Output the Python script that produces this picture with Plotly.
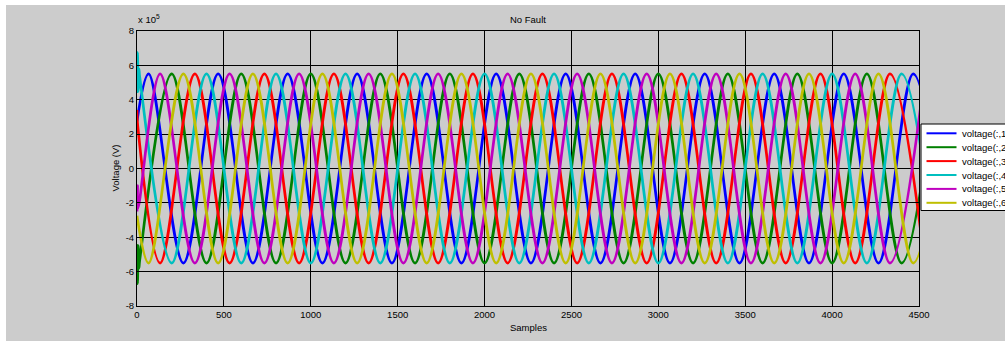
import plotly.graph_objects as go

# ---- data: sample index and voltage (x 1e5 V) at the turning points of each phase ----
names = ["voltage(:,1)", "voltage(:,2)", "voltage(:,3)",
         "voltage(:,4)", "voltage(:,5)", "voltage(:,6)"]
colors = ["#0000ff", "#008000", "#ff0000", "#00bfbf", "#bf00bf", "#bfbf00"]

v1_x = [0, 67, 267, 467, 667, 867, 1067, 1267, 1467, 1667, 1867, 2067, 2267,
        2467, 2667, 2867, 3067, 3267, 3467, 3667, 3867, 4067, 4267, 4467, 4667]
v1_y = [2.75,
        5.5, -5.5, 5.5, -5.5, 5.5, -5.5, 5.5, -5.5,
        5.5, -5.5, 5.5, -5.5, 5.5, -5.5, 5.5, -5.5,
        5.5, -5.5, 5.5, -5.5, 5.5, -5.5, 5.5, -5.5]

v2_x = [0, 3, 7, 11, 16, 200, 400, 600, 800, 1000, 1200, 1400, 1600, 1800,
        2000, 2200, 2400, 2600, 2800, 3000, 3200, 3400, 3600, 3800, 4000,
        4200, 4400, 4600]
v2_y = [-4.4, -6.7, -4.5, -5.8, -5.3,
        5.5, -5.5, 5.5, -5.5, 5.5, -5.5, 5.5, -5.5,
        5.5, -5.5, 5.5, -5.5, 5.5, -5.5, 5.5, -5.5,
        5.5, -5.5, 5.5, -5.5, 5.5, -5.5, 5.5]

v3_x = [0, 4, 133, 333, 533, 733, 933, 1133, 1333, 1533, 1733, 1933, 2133,
        2333, 2533, 2733, 2933, 3133, 3333, 3533, 3733, 3933, 4133, 4333, 4533]
v3_y = [3.4, 2.5,
        -5.5, 5.5, -5.5, 5.5, -5.5, 5.5, -5.5, 5.5,
        -5.5, 5.5, -5.5, 5.5, -5.5, 5.5, -5.5, 5.5,
        -5.5, 5.5, -5.5, 5.5, -5.5, 5.5, -5.5]

v4_x = [0, 3, 7, 11, 16, 200, 400, 600, 800, 1000, 1200, 1400, 1600, 1800,
        2000, 2200, 2400, 2600, 2800, 3000, 3200, 3400, 3600, 3800, 4000,
        4200, 4400, 4600]
v4_y = [4.4, 6.75, 4.5, 5.8, 5.3,
        -5.5, 5.5, -5.5, 5.5, -5.5, 5.5, -5.5, 5.5,
        -5.5, 5.5, -5.5, 5.5, -5.5, 5.5, -5.5, 5.5,
        -5.5, 5.5, -5.5, 5.5, -5.5, 5.5, -5.5]

v5_x = [0, 3, 6, 133, 333, 533, 733, 933, 1133, 1333, 1533, 1733, 1933, 2133,
        2333, 2533, 2733, 2933, 3133, 3333, 3533, 3733, 3933, 4133, 4333, 4533]
v5_y = [-2.5, -1.0, -2.3,
        5.5, -5.5, 5.5, -5.5, 5.5, -5.5, 5.5, -5.5,
        5.5, -5.5, 5.5, -5.5, 5.5, -5.5, 5.5, -5.5,
        5.5, -5.5, 5.5, -5.5, 5.5, -5.5, 5.5]

v6_x = [0, 67, 267, 467, 667, 867, 1067, 1267, 1467, 1667, 1867, 2067, 2267,
        2467, 2667, 2867, 3067, 3267, 3467, 3667, 3867, 4067, 4267, 4467, 4667]
v6_y = [-2.75,
        -5.5, 5.5, -5.5, 5.5, -5.5, 5.5, -5.5, 5.5,
        -5.5, 5.5, -5.5, 5.5, -5.5, 5.5, -5.5, 5.5,
        -5.5, 5.5, -5.5, 5.5, -5.5, 5.5, -5.5, 5.5]

x_ticks = [0, 500, 1000, 1500, 2000, 2500, 3000, 3500, 4000, 4500]
y_ticks = [-8, -6, -4, -2, 0, 2, 4, 6, 8]   # in units of 1e5 V
UNIT = 1e5

series_x = [v1_x, v2_x, v3_x, v4_x, v5_x, v6_x]
series_y = [v1_y, v2_y, v3_y, v4_y, v5_y, v6_y]

# ---- figure geometry (pixels) ----
W, H = 1005, 341
L, R, T, B = 137, 919, 31, 306
FONT = "Liberation Sans, Arial, Helvetica, sans-serif"


def px(xp):
    return (xp - L) / (R - L)


def py(yp):
    return (B - yp) / (B - T)


fig = go.Figure()
for name, color, xs, ys in zip(names, colors, series_x, series_y):
    fig.add_trace(go.Scatter(
        x=xs, y=[v * UNIT for v in ys], mode="lines", name=name,
        line=dict(color=color, width=2.7, shape="spline", smoothing=1),
        showlegend=False, hoverinfo="skip"))

axis_common = dict(
    showline=True, linecolor="black", linewidth=1, mirror="ticks",
    ticks="inside", ticklen=5, tickcolor="black", tickwidth=1,
    showgrid=True, gridcolor="black", gridwidth=1, zeroline=False,
    tickfont=dict(family=FONT, size=9.5, color="black"),
)

fig.update_xaxes(range=[0, 4500], tickvals=x_ticks,
                 ticktext=[str(t) for t in x_ticks], **axis_common)
fig.update_yaxes(range=[-8 * UNIT, 8 * UNIT],
                 tickvals=[t * UNIT for t in y_ticks],
                 ticktext=[str(t) for t in y_ticks], **axis_common)

shapes = [
    # figure panel
    dict(type="rect", xref="paper", yref="paper", layer="below",
         x0=px(6), x1=px(1012), y0=py(346), y1=py(5),
         fillcolor="#cccccc", line=dict(width=0)),
    # legend frame
    dict(type="rect", xref="paper", yref="paper", layer="above",
         x0=px(921), x1=px(1012), y0=py(210.5), y1=py(124),
         fillcolor="white", line=dict(color="black", width=1)),
]
annotations = [
    dict(text="No Fault", x=0.5, y=py(20), xref="paper", yref="paper",
         xanchor="center", yanchor="middle", showarrow=False,
         font=dict(family=FONT, size=9.5, color="black")),
    dict(text="Samples", x=0.5, y=py(327), xref="paper", yref="paper",
         xanchor="center", yanchor="middle", showarrow=False,
         font=dict(family=FONT, size=9.5, color="black")),
    dict(text="Voltage (V)", x=px(115), y=0.5, xref="paper", yref="paper",
         xanchor="center", yanchor="middle", textangle=-90, showarrow=False,
         font=dict(family=FONT, size=9.5, color="black")),
    dict(text="x 10<sup>5</sup>", x=px(136), y=py(27), xref="paper",
         yref="paper", xanchor="left", yanchor="bottom", showarrow=False,
         font=dict(family=FONT, size=9.5, color="black")),
]

row_top, row_step = 133.3, 13.9
for i, (name, color) in enumerate(zip(names, colors)):
    yy = py(row_top + row_step * i)
    shapes.append(dict(type="line", xref="paper", yref="paper", layer="above",
                       x0=px(926.5), x1=px(956.5), y0=yy, y1=yy,
                       line=dict(color=color, width=2)))
    annotations.append(dict(text=name, x=px(959.5), y=yy, xref="paper",
                            yref="paper", xanchor="left", yanchor="middle",
                            showarrow=False,
                            font=dict(family=FONT, size=9.5, color="black")))

fig.update_layout(
    width=W, height=H,
    margin=dict(l=L, r=W - R, t=T, b=H - B, pad=0),
    paper_bgcolor="white", plot_bgcolor="white",
    showlegend=False, shapes=shapes, annotations=annotations,
)

fig.write_html("out.html")
